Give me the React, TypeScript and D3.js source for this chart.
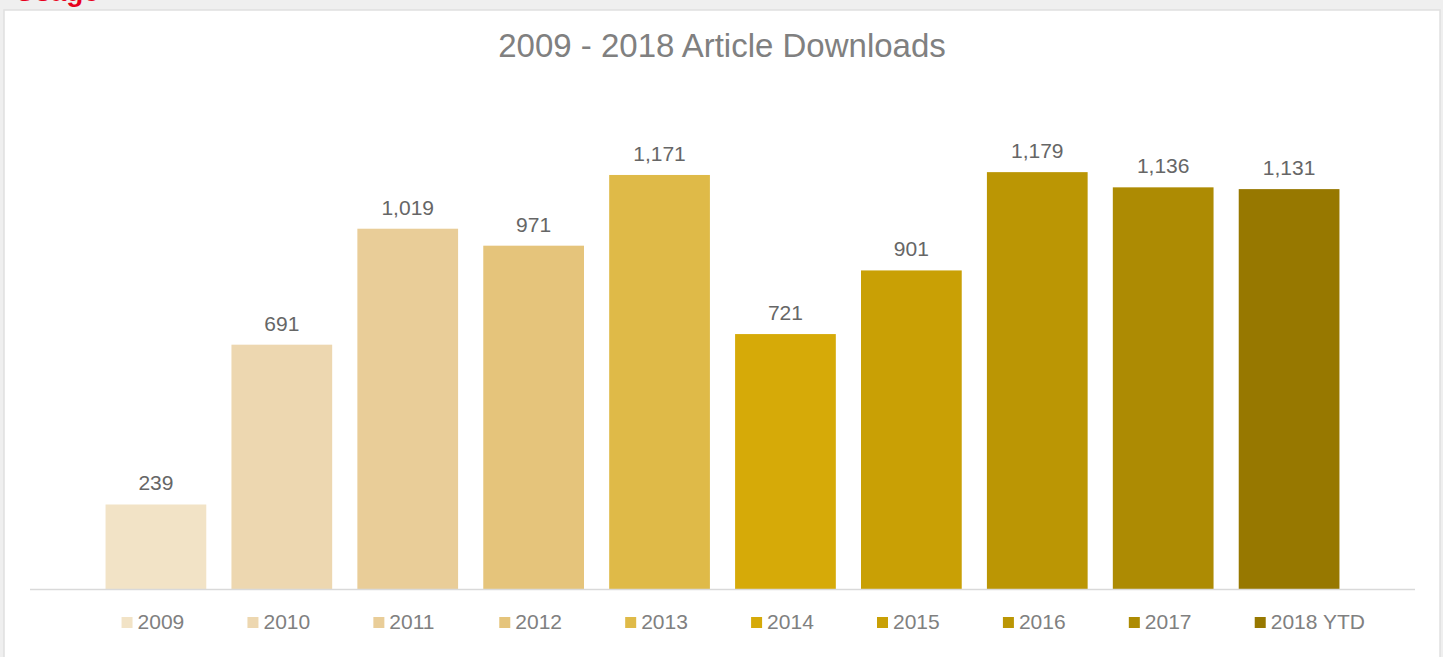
import * as d3 from 'd3';
import { useEffect } from 'react';

const categories = ['2009', '2010', '2011', '2012', '2013', '2014', '2015', '2016', '2017', '2018 YTD'];
const downloads = [239, 691, 1019, 971, 1171, 721, 901, 1179, 1136, 1131];
const barColors = [
  '#f2e3c6',
  '#edd7b0',
  '#e9cd98',
  '#e5c47b',
  '#dfba48',
  '#d6aa08',
  '#c9a005',
  '#bb9604',
  '#ad8b03',
  '#977800',
];

const W = 1443;
const H = 657;
const FONT = 'Arial, "Liberation Sans", sans-serif';

export default function App(): React.ReactElement {
  useEffect(() => {
    document.body.style.margin = '0';
    document.body.style.background = '#efefef';
  }, []);

  const x = d3
    .scaleBand()
    .domain(categories)
    .range([30, 1415])
    .paddingInner(0.2)
    .paddingOuter(0.6);

  const y = d3.scaleLinear().domain([0, 1400]).range([589, 94]);
  const fmt = d3.format(',');

  return (
    <svg width={W} height={H} style={{ display: 'block', fontFamily: FONT }}>
      <rect x={0} y={0} width={W} height={H} fill="#efefef" />
      {/* section heading, cut off by the page top as in the source */}
      <text x={15} y={1} fill="#e8001c" fontSize={28} fontWeight="bold">
        Usage
      </text>
      <rect x={4} y={10} width={1436} height={H} fill="#ffffff" stroke="#e0e0e0" strokeWidth={1.5} />

      <text x={722} y={57} textAnchor="middle" fill="#808080" fontSize={33}>
        2009 - 2018 Article Downloads
      </text>

      {/* Bars */}
      {categories.map((c, i) => (
        <rect
          key={c}
          x={x(c)}
          y={y(downloads[i])}
          width={x.bandwidth()}
          height={y(0) - y(downloads[i])}
          fill={barColors[i]}
        />
      ))}

      {/* Values */}
      {categories.map((c, i) => (
        <text
          key={c}
          x={(x(c) || 0) + x.bandwidth() / 2}
          y={y(downloads[i]) - 14}
          textAnchor="middle"
          fill="#666666"
          fontSize={21}
        >
          {fmt(downloads[i])}
        </text>
      ))}

      {/* Axis line */}
      <line x1={30} x2={1415} y1={y(0) + 0.5} y2={y(0) + 0.5} stroke="#d9d9d9" strokeWidth={1.5} />

      {/* Legend */}
      {categories.map((c, i) => (
        <g key={c} transform={`translate(${(x(c) || 0) + 16}, 617)`}>
          <rect x={0} y={0} width={11} height={11} fill={barColors[i]} />
          <text x={16} y={12} fill="#808080" fontSize={21}>
            {c}
          </text>
        </g>
      ))}
    </svg>
  );
}
